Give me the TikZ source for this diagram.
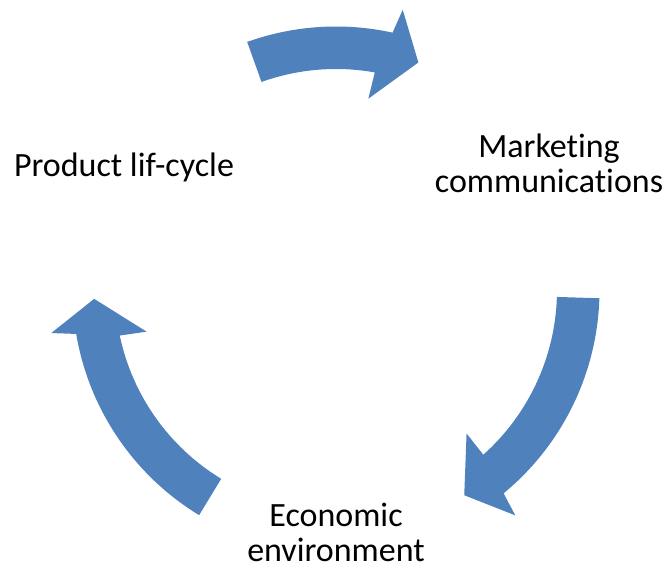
\documentclass[tikz,border=0pt]{standalone}
\usepackage{fontspec}
\setmainfont{Carlito}[Ligatures=NoCommon]
\definecolor{cyclefill}{HTML}{4F81BD}
\tikzset{
  label text/.style={inner sep=0pt, align=center, anchor=base,
    font=\fontsize{34}{35}\selectfont, text=black},
  cycle arrow/.style={fill=cyclefill, draw=none}
}
\begin{document}
\begin{tikzpicture}[x=1pt,y=1pt]
  \useasboundingbox (0,0) rectangle (668,569);
  % three curved block arrows around a common centre
  \begin{scope}[shift={(336,279)}]
    \foreach \tail/\tip in {109.7/70.1, -1.8/-58.0, 238.7/182.1} {
      \pgfmathsetmacro{\outerend}{\tip+7.5}
      \pgfmathsetmacro{\outerbarb}{\tip+6.5}
      \pgfmathsetmacro{\innerbarb}{\tip+10.3}
      \pgfmathsetmacro{\innerend}{\tip+9.8}
      \fill[cycle arrow] (\tail:263.5pt)
        arc[start angle=\tail, end angle=\outerend, radius=263.5pt]
        -- (\outerbarb:288pt) -- (\tip:242pt) -- (\innerbarb:194pt)
        -- (\innerend:221pt)
        arc[start angle=\innerend, end angle=\tail, radius=221pt]
        -- cycle;
    }
  \end{scope}
  % stage labels (base anchor sits on the last line)
  \node[label text] (product) at (124,392) {Product lif-cycle};
  \node[label text] (marketing) at (549,376) {Marketing\\communications};
  \node[label text] (economic) at (336,7) {Economic\\environment};
\end{tikzpicture}
\end{document}
